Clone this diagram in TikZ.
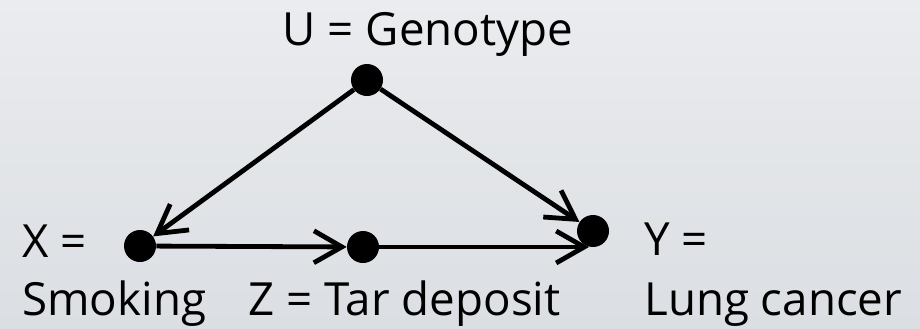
\documentclass[tikz,border=0pt]{standalone}
\usepackage{fontspec}
\setmainfont{Open Sans}
\usetikzlibrary{arrows.meta,positioning}
\definecolor{bgtop}{HTML}{EAECEF}
\definecolor{bgbot}{HTML}{DBDEE2}

\begin{document}
\begin{tikzpicture}
  [
   x=0.25mm,y=-0.25mm,
   dot/.style={circle,fill=black,inner sep=0pt,minimum size=8mm},
   lbl/.style={inner sep=0pt,font=\fontsize{32.5}{38}\selectfont},
   arr/.style={line width=1.2mm,-{Straight Barb[length=7mm,width=8mm]}}
  ]
   \shade[top color=bgtop,bottom color=bgbot] (0,0) rectangle (920,328);
   \useasboundingbox (0,0) rectangle (920,328);

   \node[dot] (u) at (367,80)  {};
   \node[dot] (x) at (140,246) {};
   \node[dot] (z) at (363,247) {};
   \node[dot] (y) at (593,231) {};

   \node[lbl,anchor=base]      (ul)  at (428,45)  {U = Genotype};
   \node[lbl,anchor=base west] (xl)  at (22,257)  {X =};
   \node[lbl,anchor=base west] (xl2) at (22,315)  {Smoking};
   \node[lbl,anchor=base west] (zl)  at (248,315) {Z = Tar deposit};
   \node[lbl,anchor=base west] (yl)  at (644,255) {Y =};
   \node[lbl,anchor=base west] (yl2) at (644,315) {Lung cancer};

   \draw[arr] (u) -- (x);
   \draw[arr] (u) -- (y);
   \draw[arr] (x) -- (z);
   \draw[arr] (z) -- ([xshift=-1mm]z -| y);

\end{tikzpicture}
\end{document}
